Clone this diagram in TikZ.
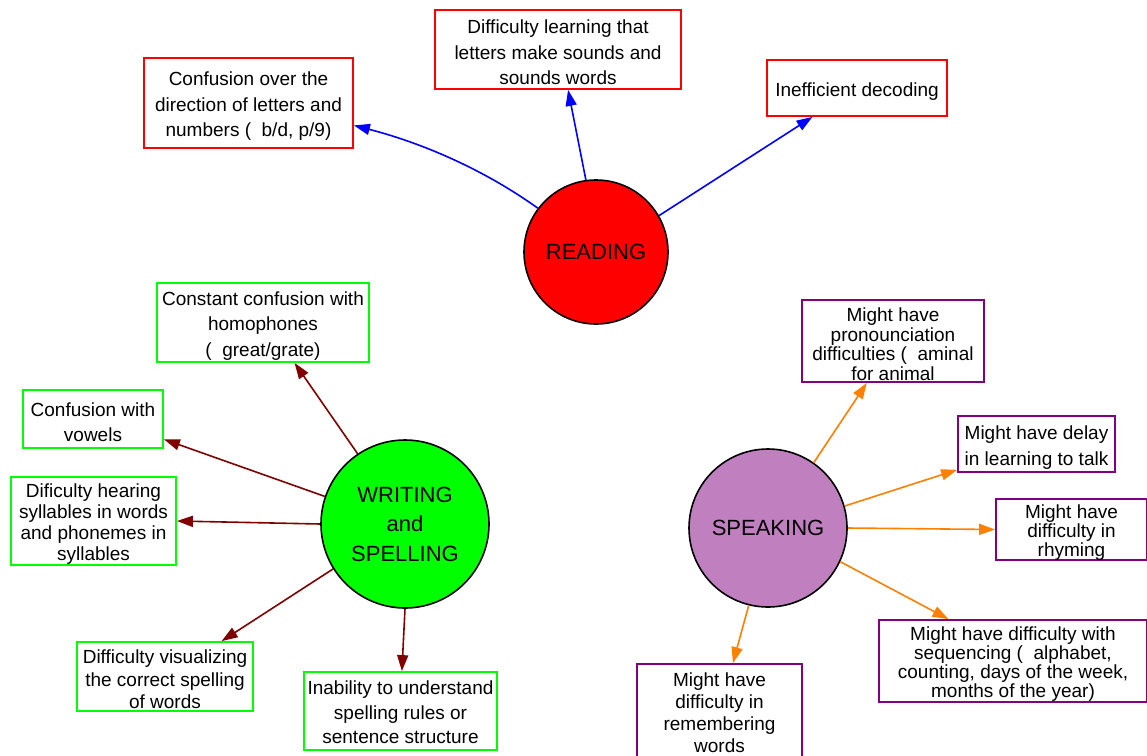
\documentclass[tikz,border=0pt]{standalone}
\usepackage{fontspec}
\setmainfont{Liberation Sans}
\usetikzlibrary{arrows.meta}
\definecolor{cred}{HTML}{FF0000}
\definecolor{cgreen}{HTML}{00FF00}
\definecolor{cpurple}{HTML}{800080}
\definecolor{cspeak}{HTML}{C080C0}
\definecolor{cdarkred}{HTML}{800000}
\definecolor{corange}{HTML}{FF8000}
\definecolor{cblue}{HTML}{0000FF}
\newcommand{\bfs}[1]{\fontsize{19}{#1}\selectfont}
\newcommand{\tp}{\rule{0pt}{20pt}}
\tikzset{
  box/.style={draw, line width=1.8pt, fill=white, inner sep=0pt, align=center, font=\bfs{25.5}},
  rbox/.style={box, draw=cred},
  gbox/.style={box, draw=cgreen},
  pbox/.style={box, draw=cpurple},
  hub/.style={circle, draw=black, line width=1.6pt, inner sep=0pt, align=center, font=\fontsize{22}{29.5}\selectfont},
  arr/.style={line width=1.6pt, -{Triangle[length=16pt,width=11pt]}},
}
\begin{document}
\begin{tikzpicture}[x=1pt,y=-1pt]
\useasboundingbox[fill=white] (0,0) rectangle (1147,755);
% hubs
\node[hub, fill=cred, minimum size=144pt] (read) at (596,252) {READING};
\node[hub, fill=cgreen, minimum size=168pt] (write) at (405,524) {WRITING\\and\\SPELLING};
\node[hub, fill=cspeak, minimum size=158pt] (speak) at (768,528) {SPEAKING};
% reading boxes
\node[rbox, minimum width=209pt, minimum height=90pt] (r1) at (248.5,103) {\tp Confusion over the\\direction of letters and\\numbers (\ \ b/d, p/9)};
\node[rbox, minimum width=246pt, minimum height=79pt] (r2) at (558,49.5) {\tp Difficulty learning that\\letters make sounds and\\sounds words};
\node[rbox, minimum width=180pt, minimum height=56pt] (r3) at (857,88) {\tp Inefficient decoding};
% writing boxes
\node[gbox, minimum width=212pt, minimum height=79pt] (w1) at (263,322.5) {\tp Constant confusion with\\homophones\\(\ \ great/grate)};
\node[gbox, minimum width=140pt, minimum height=58pt] (w2) at (93,419) {\tp Confusion with\\vowels};
\node[gbox, minimum width=165pt, minimum height=88pt, font=\bfs{21}] (w3) at (93.5,521) {\tp Dificulty hearing\\syllables in words\\and phonemes in\\syllables};
\node[gbox, minimum width=176pt, minimum height=69pt, font=\bfs{22.5}] (w4) at (165,676.5) {\tp Difficulty visualizing\\the correct spelling\\of words};
\node[gbox, minimum width=193pt, minimum height=78pt, font=\bfs{24.5}] (w5) at (400.5,711) {\rule{0pt}{17pt}Inability to understand\\spelling rules or\\sentence structure};
% speaking boxes
\node[pbox, minimum width=182pt, minimum height=82pt, font=\bfs{19.5}] (s1) at (893,341) {\tp Might have\\pronounciation\\difficulties (\ \ aminal\\for animal};
\node[pbox, minimum width=157pt, minimum height=56pt, font=\bfs{26}] (s2) at (1036.5,444) {\tp Might have delay\\in learning to talk};
\node[pbox, minimum width=151pt, minimum height=59pt, font=\bfs{16.5}] (s3) at (1071.5,529.5) {\tp Might have\\difficulty in\\rhyming};
\node[pbox, minimum width=268pt, minimum height=82pt, font=\bfs{19}] (s4) at (1013,661) {\tp Might have difficulty with\\sequencing (\ \ alphabet,\\counting, days of the week,\\months of the year)};
\node[pbox, minimum width=165pt, minimum height=98pt, font=\bfs{22}] (s5) at (719.5,713) {Might have\\difficulty in\\remembering\\words};
% reading arrows
\draw[arr, cblue] (read.143.4) .. controls (483,169) and (422,143) .. (r1.-12.7);
\draw[arr, cblue] (read.98.6) -- (r2.-76);
\draw[arr, cblue] (read.30.6) -- (r3.-147.5);
% writing arrows
\draw[arr, cdarkred] (write.124.2) -- (w1.-52);
\draw[arr, cdarkred] (write.161.1) -- (w2.-16);
\draw[arr, cdarkred] (write.180) -- (w3.east);
\draw[arr, cdarkred] (write.212.4) -- (w4.32);
\draw[arr, cdarkred] (write.270) -- (w5.88);
% speaking arrows
\draw[arr, corange] (speak.55.9) -- (s1.-122);
\draw[arr, corange] (speak.16.4) -- (s2.-162);
\draw[arr, corange] (speak.0) -- (s3.west);
\draw[arr, corange] (speak.-25) -- (s4.147);
\draw[arr, corange] (speak.-104.6) -- (s5.75);
\end{tikzpicture}
\end{document}
